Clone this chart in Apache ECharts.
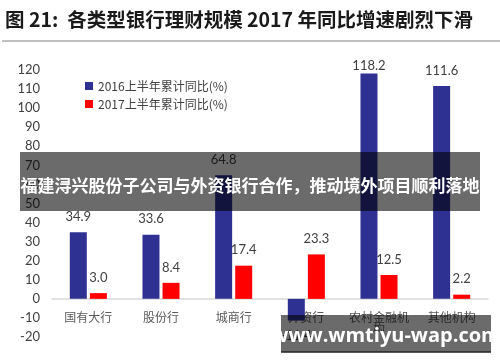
<!DOCTYPE html>
<html>
<head>
<meta charset="utf-8">
<script src="https://cdn.jsdelivr.net/npm/echarts@6/dist/echarts.min.js"></script>
<style>html,body{margin:0;padding:0;background:#fff}#c{width:500px;height:362px}</style>
</head>
<body>
<div id="c"></div>
<script>
var categories = ['国有大行', '股份行', '城商行', '外资行', '农村金融机构', '其他机构'];
var series2016 = [34.9, 33.6, 64.8, -11.4, 118.2, 111.6];
var series2017 = [3.0, 8.4, 17.4, 23.3, 12.5, 2.2];
var seriesNames = ['2016上半年累计同比(%)', '2017上半年累计同比(%)'];
var titleText = '图 21:  各类型银行理财规模 2017 年同比增速剧烈下滑';
var bannerText = '福建浔兴股份子公司与外资银行合作，推动境外项目顺利落地';
var watermarkText = 'www.wmtiyu-wap.com';

var numFont = '"Liberation Sans Narrow", Lato, sans-serif';
var cjkFont = '"Noto Sans CJK SC", sans-serif';

var yMin = -20, yMax = 120;
var gridTop = 70, gridBottom = 25, chartH = 362;
// offset of the category axis so that it sits on the zero line
var plotH = chartH - gridTop - gridBottom;
var zeroOffset = -plotH * (0 - yMin) / (yMax - yMin);

function toItems(arr, specialDist) {
  return arr.map(function (v, i) {
    var item = { value: v };
    if (v < 0) item.label = { position: 'bottom' };
    if (specialDist && specialDist[i] != null) item.label = { distance: specialDist[i] };
    return item;
  });
}

var chart = echarts.init(document.getElementById('c'));
chart.setOption({
  animation: false,
  backgroundColor: '#ffffff',
  legend: {
    orient: 'vertical',
    left: 80,
    top: 75,
    itemWidth: 8,
    itemHeight: 8,
    itemGap: 6,
    icon: 'rect',
    textStyle: { fontFamily: cjkFont, fontSize: 12, color: '#404040' },
    data: seriesNames
  },
  grid: { left: 52, right: 12, top: gridTop, bottom: gridBottom, containLabel: false, outerBoundsMode: 'none' },
  xAxis: {
    type: 'category',
    data: categories,
    offset: zeroOffset,
    axisLine: { onZero: false, lineStyle: { color: '#d9d9d9', width: 1.5 } },
    axisTick: { show: false },
    axisLabel: {
      margin: 13,
      color: '#595959',
      fontFamily: cjkFont,
      fontSize: 12,
      width: 64,
      overflow: 'break',
      interval: 0
    }
  },
  yAxis: {
    type: 'value',
    min: yMin,
    max: yMax,
    interval: 10,
    axisLine: { show: false },
    axisTick: { show: false },
    splitLine: { show: false },
    axisLabel: { margin: 12, color: '#404040', fontFamily: numFont, fontSize: 13 }
  },
  series: [
    {
      name: seriesNames[0],
      type: 'bar',
      barWidth: 17,
      barGap: '18%',
      itemStyle: { color: '#2E3092' },
      label: {
        show: true, position: 'top', distance: 9,
        color: '#404040', fontFamily: numFont, fontSize: 13,
        formatter: function (p) { return p.value.toFixed(1); }
      },
      data: toItems(series2016, { 4: 1 })
    },
    {
      name: seriesNames[1],
      type: 'bar',
      barWidth: 17,
      itemStyle: { color: '#FF0000' },
      label: {
        show: true, position: 'top', distance: 9,
        color: '#404040', fontFamily: numFont, fontSize: 13,
        formatter: function (p) { return p.value.toFixed(1); }
      },
      data: toItems(series2017)
    }
  ],
  graphic: [
    {
      type: 'text', left: 5, top: 10, z: 50,
      style: { text: titleText, font: 'bold 19.5px "Noto Sans CJK SC", sans-serif', fill: '#1a1a1a' }
    },
    {
      type: 'line', z: 50,
      shape: { x1: 2, y1: 41, x2: 500, y2: 41 },
      style: { stroke: '#808080', lineWidth: 1 }
    },
    {
      type: 'rect', z: 100,
      shape: { x: 20, y: 152, width: 460, height: 59 },
      style: { fill: 'rgba(0,0,0,0.58)' }
    },
    {
      type: 'text', z: 101, x: 250, y: 186,
      style: {
        text: bannerText, font: 'bold 17px "Noto Sans CJK SC", sans-serif',
        fill: '#ffffff', align: 'center', verticalAlign: 'middle'
      }
    },
    {
      type: 'rect', z: 100,
      shape: { x: 281, y: 315, width: 210, height: 37 },
      style: { fill: 'rgba(0,0,0,0.58)' }
    },
    {
      type: 'line', z: 100,
      shape: { x1: 281, y1: 352, x2: 491, y2: 352 },
      style: { stroke: '#222', lineWidth: 1.5 }
    },
    {
      type: 'text', z: 101, x: 386, y: 336,
      style: {
        text: watermarkText, font: 'bold 20px "Open Sans", sans-serif',
        fill: '#ffffff', align: 'center', verticalAlign: 'middle'
      }
    }
  ]
});
</script>
</body>
</html>
